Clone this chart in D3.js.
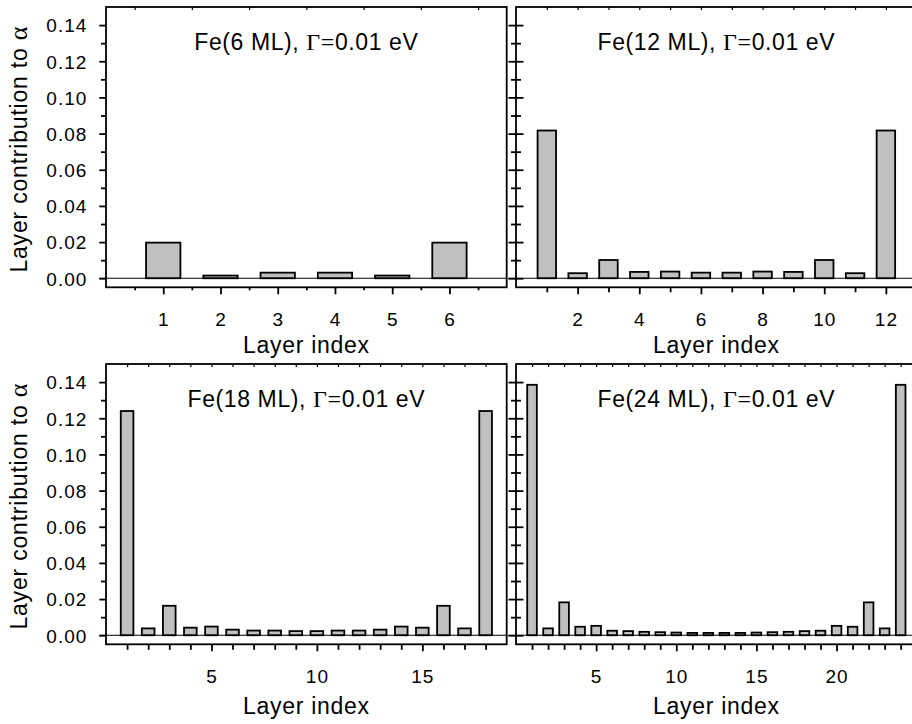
<!DOCTYPE html>
<html><head><meta charset="utf-8">
<script src="https://cdn.jsdelivr.net/npm/d3@7/dist/d3.min.js"></script>
<style>
body{margin:0;background:#fff}
svg text{font-family:"Liberation Sans",Arial,sans-serif;fill:#000}
</style>
</head><body>
<svg id="chart" width="912" height="724"></svg>
<script>
// ---- data ----
const layers6 = [1,2,3,4,5,6];
const values6 = [0.0197,0.0015,0.0031,0.0031,0.0015,0.0197];
const layers12 = [1,2,3,4,5,6,7,8,9,10,11,12];
const values12 = [0.0817,0.0028,0.0101,0.0035,0.0037,0.0031,0.0031,0.0037,0.0035,0.0101,0.0028,0.0817];
const layers18 = d3.range(1,19);
const values18 = [0.1240,0.0038,0.0163,0.0042,0.0048,0.0031,0.0026,0.0026,0.0023,0.0023,0.0026,0.0026,0.0031,0.0048,0.0042,0.0163,0.0038,0.1240];
const layers24 = d3.range(1,25);
const values24 = [0.1385,0.0038,0.0182,0.0047,0.0052,0.0025,0.0023,0.0019,0.0017,0.0015,0.0013,0.0013,0.0013,0.0013,0.0015,0.0017,0.0019,0.0023,0.0025,0.0052,0.0047,0.0182,0.0038,0.1385];

const yMajorTicks = [0,0.02,0.04,0.06,0.08,0.10,0.12,0.14];
const yMinorTicks = [0.01,0.03,0.05,0.07,0.09,0.11,0.13];
const xMajor6 = [1,2,3,4,5,6];
const xMinor6 = [0.5,1.5,2.5,3.5,4.5,5.5,6.5];
const xMajor12 = [2,4,6,8,10,12];
const xMinor12 = [1,3,5,7,9,11];
const xMajor18 = [5,10,15];
const xMinor18 = [1,2,3,4,6,7,8,9,11,12,13,14,16,17,18];
const xMajor24 = [5,10,15,20];
const xMinor24 = [1,2,3,4,6,7,8,9,11,12,13,14,16,17,18,19,21,22,23,24];
const titleNames = ["Fe(6 ML), ","Fe(12 ML), ","Fe(18 ML), ","Fe(24 ML), "];
const titleTail = "0.01 eV";
const xLabel = "Layer index";
const yLabel = "Layer contribution to ";

// ---- layout ----
const cols = [[106,506.7],[516,916.7]];
const rows = [[7,287.3],[364,644.3]];
const panels = [
  {layers:layers6, values:values6, xDomain:[0,7], major:xMajor6, minor:xMinor6, top:xMinor6, minorLen:3, col:0,row:0, title:titleNames[0]},
  {layers:layers12, values:values12, xDomain:[0,13], major:xMajor12, minor:xMinor12, top:xMajor12.concat(xMinor12), minorLen:5, col:1,row:0, title:titleNames[1]},
  {layers:layers18, values:values18, xDomain:[0,19], major:xMajor18, minor:xMinor18, top:xMajor18.concat(xMinor18), minorLen:5.5, col:0,row:1, title:titleNames[2]},
  {layers:layers24, values:values24, xDomain:[0,25], major:xMajor24, minor:xMinor24, top:xMajor24.concat(xMinor24), minorLen:5.5, col:1,row:1, title:titleNames[3]}
];

const svg = d3.select("#chart");
const LW = 1.8;
const SERIF = "'Liberation Serif','Times New Roman',serif";

panels.forEach(p => {
  const [x0,x1] = cols[p.col];
  const [y0,y1] = rows[p.row];
  const x = d3.scaleLinear().domain(p.xDomain).range([x0,x1]);
  const y = d3.scaleLinear().domain([-0.005,0.15]).range([y1,y0]);
  const g = svg.append("g");
  const isLeft = p.col===0;

  // bars
  g.selectAll("rect.bar").data(p.layers).join("rect")
    .attr("class","bar")
    .attr("x", d => x(d-0.3))
    .attr("width", d => x(d+0.3)-x(d-0.3))
    .attr("y", (d,i) => y(p.values[i]))
    .attr("height", (d,i) => y(0)-y(p.values[i]))
    .attr("fill","#c0c0c0").attr("stroke","#000").attr("stroke-width",1.8);

  // zero line
  const tickOut = isLeft ? 6.7 : 7.7;
  g.append("line").attr("x1",x0-tickOut).attr("x2",x1).attr("y1",y(0)).attr("y2",y(0))
    .attr("stroke","#000").attr("stroke-width",1.2);

  // y axis ticks
  if (isLeft) {
    const ax = g.append("g").attr("transform",`translate(${x0},0)`)
      .call(d3.axisLeft(y).tickValues(yMajorTicks).tickSize(6.7).tickPadding(12).tickFormat(d3.format(".2f")));
    ax.select(".domain").remove();
    ax.selectAll("line").attr("stroke-width",LW);
    ax.selectAll("text").attr("font-size",19).attr("letter-spacing",1).attr("font-family",null).attr("dy","0.36em");
    const axm = g.append("g").attr("transform",`translate(${x0},0)`)
      .call(d3.axisLeft(y).tickValues(yMinorTicks).tickSize(5).tickFormat(""));
    axm.select(".domain").remove();
    axm.selectAll("line").attr("stroke-width",LW);
    // y title
    const cy = (y0+y1)/2 + 2;
    const t = g.append("text").attr("transform",`translate(27,${cy}) rotate(-90)`)
      .attr("text-anchor","middle").attr("font-size",23).attr("letter-spacing",0.8);
    t.append("tspan").text(yLabel);
    t.append("tspan").attr("font-family",SERIF).attr("font-size",26).text("α");
  } else {
    const ax = g.append("g").attr("transform",`translate(${x0+7.5},0)`)
      .call(d3.axisLeft(y).tickValues(yMajorTicks).tickSize(15).tickFormat(""));
    ax.select(".domain").remove();
    ax.selectAll("line").attr("stroke-width",LW);
    const axm = g.append("g").attr("transform",`translate(${x0+5},0)`)
      .call(d3.axisLeft(y).tickValues(yMinorTicks).tickSize(10).tickFormat(""));
    axm.select(".domain").remove();
    axm.selectAll("line").attr("stroke-width",LW);
  }

  // bottom x ticks
  const bx = g.append("g").attr("transform",`translate(0,${y1})`)
    .call(d3.axisBottom(x).tickValues(p.major).tickSize(7).tickFormat(d3.format("d")));
  bx.select(".domain").remove();
  bx.selectAll("line").attr("stroke-width",LW);
  bx.selectAll("text").attr("font-size",19).attr("letter-spacing",1).attr("font-family",null)
    .attr("y",39).attr("dy",0);
  const bxm = g.append("g").attr("transform",`translate(0,${y1})`)
    .call(d3.axisBottom(x).tickValues(p.minor).tickSize(p.minorLen).tickFormat(""));
  bxm.select(".domain").remove();
  bxm.selectAll("line").attr("stroke-width",LW);

  // top ticks (inward)
  const tx = g.append("g").attr("transform",`translate(0,${y0})`)
    .call(d3.axisTop(x).tickValues(p.top).tickSize(-3).tickFormat(""));
  tx.select(".domain").remove();
  tx.selectAll("line").attr("stroke-width",1.2);

  // frame
  g.append("rect").attr("x",x0).attr("y",y0).attr("width",x1-x0).attr("height",y1-y0)
    .attr("fill","none").attr("stroke","#000").attr("stroke-width",LW);

  // panel title
  const cx = (x0+x1)/2;
  const tt = g.append("text").attr("x",cx).attr("y",y0+43).attr("text-anchor","middle")
    .attr("font-size",23).attr("letter-spacing",0.6);
  tt.append("tspan").text(p.title);
  tt.append("tspan").attr("font-family",SERIF).attr("font-size",24).text("Γ=");
  tt.append("tspan").text(titleTail);

  // x label
  g.append("text").attr("x",cx).attr("y",y1 + (p.row===0?65.4:70)).attr("text-anchor","middle")
    .attr("font-size",23).attr("letter-spacing",0.7).text(xLabel);
});
</script>
</body></html>
